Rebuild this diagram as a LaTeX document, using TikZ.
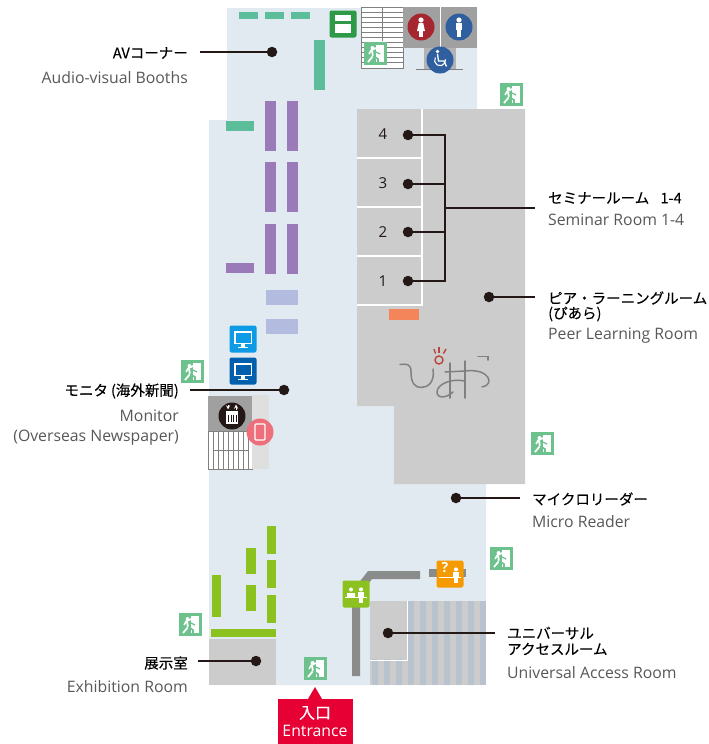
\documentclass[tikz,border=0pt]{standalone}
\usepackage{fontspec}
\setmainfont{Open Sans}
\newfontfamily\cjk[FakeBold=0.2]{Noto Sans CJK JP}
\usetikzlibrary{positioning}

\definecolor{floorblue}{HTML}{E1EAF0}
\definecolor{roomgray}{HTML}{CBCCCB}
\definecolor{stripegray}{HTML}{B8C3CD}
\definecolor{wallgray}{HTML}{A0A0A0}
\definecolor{railgray}{HTML}{8A8B8B}
\definecolor{exitgreen}{HTML}{6CC18C}
\definecolor{booth}{HTML}{5BBD9A}
\definecolor{shelf}{HTML}{9A7AB8}
\definecolor{lav}{HTML}{B3BCDE}
\definecolor{lime}{HTML}{8CC21F}
\definecolor{inkdark}{HTML}{231815}
\definecolor{textgray}{HTML}{595757}
\definecolor{entrred}{HTML}{E60033}
\definecolor{wcred}{HTML}{A6262F}
\definecolor{wcblue}{HTML}{2F5F9E}
\definecolor{copygreen}{HTML}{2E9A47}
\definecolor{monlight}{HTML}{0E9BE5}
\definecolor{mondark}{HTML}{0060AE}
\definecolor{phonepink}{HTML}{EE6F7C}
\definecolor{deskorange}{HTML}{F59A00}
\definecolor{boardorange}{HTML}{F4845A}
\definecolor{logored}{HTML}{B8443C}
\definecolor{logogray}{HTML}{808080}

\tikzset{
  dotmark/.style={circle, fill=inkdark, inner sep=0pt, minimum size=10.5pt},
  leader/.style={draw=inkdark, line width=1.1pt},
  jplabel/.style={font=\cjk\fontsize{14.5}{16}\selectfont, text=black, inner sep=0pt},
  enlabel/.style={font=\fontsize{15.8}{18}\selectfont, text=textgray, inner sep=0pt},
  numlabel/.style={font=\fontsize{15}{18}\selectfont, text=inkdark, inner sep=0pt},
  iconcirc/.style={circle, inner sep=0pt, minimum size=27pt},
  iconbox/.style={rectangle, rounded corners=2pt, inner sep=0pt, minimum size=27pt},
  logostroke/.style={logogray, line width=1.5pt, line cap=round},
  logospark/.style={logored, line width=1.4pt},
  exitsign/.pic={
    \fill[exitgreen] (0,0) rectangle (23,23);
    \fill[white] (12,3) rectangle (20,20);
    \fill[white] (8.5,6) circle (2);
    \draw[white, line width=1.6pt] (12,6) -- (7,8.5) -- (5,12);
    \draw[white, line width=1.8pt] (8,9) -- (9,14) -- (4,20);
    \draw[exitgreen, line width=1.6pt] (9,14) -- (14,17) -- (14,20);
    \draw[exitgreen, line width=1.2pt] (12,10) -- (16,12);
  },
  personfig/.pic={
    \fill[white] (0,-7) circle (2.6);
    \fill[white] (-3.2,-3.8) rectangle (3.2,3);
    \fill[white] (-2.2,3) rectangle (-0.3,9.5);
    \fill[white] (0.3,3) rectangle (2.2,9.5);
  },
  womanfig/.pic={
    \fill[white] (0,-7) circle (2.6);
    \fill[white] (-2.2,-4) -- (2.2,-4) -- (4,4) -- (-4,4) -- cycle;
    \fill[white] (-2,4) rectangle (-0.4,9.5);
    \fill[white] (0.4,4) rectangle (2,9.5);
  },
  monitorfig/.pic={
    \fill[white] (-9,-8) rectangle (9,5);
    \fill[#1] (-7.5,-6.5) rectangle (7.5,3.5);
    \fill[white] (-2,5) rectangle (2,7.5);
    \fill[white] (-5,7.5) rectangle (5,9);
  },
}

\begin{document}
\begin{tikzpicture}[x=1pt, y=-1pt]
\useasboundingbox (0,0) rectangle (709,744);

% Boden
\fill[floorblue] (227,8) -- (477,8) -- (477,109) -- (486,109) -- (486,685) -- (209,685) -- (209,120) -- (227,120) -- cycle;

% Raeume
\fill[roomgray] (357,109) -- (525,109) -- (525,484) -- (394,484) -- (394,406) -- (357,406) -- cycle;
\draw[white, line width=1.2pt] (422,109) -- (422,305) -- (357,305);
\foreach \yy in {158,207,256}
  \draw[white, line width=1.2pt] (357,\yy) -- (422,\yy);
\fill[roomgray] (209,639) rectangle (276,685);
\fill[roomgray] (370,601) rectangle (486,685);
\foreach \xx in {372,384,...,480}
  \fill[stripegray] (\xx,601) rectangle +(6,84);
\fill[roomgray] (370,601) rectangle (406,659);
\draw[white, line width=1pt] (407,601) -- (407,660) -- (370,660);

% Orange Tafel
\fill[boardorange] (389,309) rectangle (419,320);

% AV-Plaetze
\foreach \xx in {239,265,291}
  \fill[booth] (\xx,12) rectangle +(19,7);
\fill[booth] (314,40) rectangle (325,90);
\fill[booth] (226,121) rectangle (254,131);

% Regale
\foreach \yy in {101,162,224}{
  \fill[shelf] (265,\yy) rectangle +(11,50);
  \fill[shelf] (287,\yy) rectangle +(11,50);
}
\fill[shelf] (226,263) rectangle (254,273);
\fill[lav] (266,290) rectangle (298,305);
\fill[lav] (266,319) rectangle (298,334);

% Ausstellung
\fill[lime] (212,575) rectangle (221,617);
\fill[lime] (246,548) rectangle (256,574);
\fill[lime] (246,585) rectangle (256,611);
\fill[lime] (267,526) rectangle (276,554);
\fill[lime] (267,560) rectangle (276,588);
\fill[lime] (267,595) rectangle (276,623);
\fill[lime] (211,629) rectangle (276,637);

% Treppen
\fill[white] (361,7) rectangle (403,68);
\foreach \yy in {12,17,...,65}
  \draw[wallgray!80!black, line width=0.8pt] (361,\yy) -- (403,\yy);
\draw[wallgray!80!black, line width=0.9pt] (361,7) rectangle (403,68);
\draw[wallgray!80!black, line width=0.8pt] (382,7) -- (382,41);
\fill[white] (208,431) rectangle (252,469);
\foreach \xx in {213,218,...,250}
  \draw[wallgray!80!black, line width=0.8pt] (\xx,431) -- (\xx,469);
\draw[wallgray!80!black, line width=0.8pt] (213,450) -- (248,450);
\draw[wallgray!80!black, line width=0.9pt] (208,431) rectangle (252,469);

% WC und Aufzug
\fill[wallgray] (403,7) rectangle (477,48);
\fill[white] (439.5,7) rectangle (441,48);
\fill[wallgray!80] (424,48) rectangle (456,69);
\draw[wallgray!80!black, line width=0.9pt] (416,69) -- (463,69);
\fill[wallgray] (208,396) rectangle (252,431);
\fill[gray!25] (252,395) rectangle (269,469);

% Symbole
\node[iconcirc, fill=wcred] (wcwomen) at (421,27) {};
\pic at (wcwomen) {womanfig};
\node[iconcirc, fill=wcblue] (wcmen) at (459,27) {};
\pic at (wcmen) {personfig};
\node[iconcirc, fill=wcblue] (wcaccess) at (440,60) {};
\fill[white] (437.5,51.5) circle (1.8);
\draw[white, line width=1.3pt] (437.5,54) -- (438.5,61) -- (444,61) -- (446.5,66.5);
\draw[white, line width=1.1pt] (435.3,57.5) arc[start angle=210, end angle=-10, radius=5.5];

\node[iconbox, fill=copygreen] (copier) at (343,24) {};
\fill[white] (335,15) rectangle (351,21);
\fill[white] (335,24) rectangle (351,33);

\node[iconbox, fill=monlight] (monitora) at (243,339) {};
\pic at (monitora) {monitorfig=monlight};
\node[iconbox, fill=mondark] (monitorb) at (243,371) {};
\pic at (monitorb) {monitorfig=mondark};

\node[iconcirc, fill=inkdark] (lift) at (232,416) {};
\draw[white, line width=0.9pt, ->, >=stealth] (228,404.5) -- (228,409.5);
\draw[white, line width=0.9pt, ->, >=stealth] (236,409.5) -- (236,404.5);
\fill[white] (226,411) rectangle (238,424);
\foreach \xx in {228.5,231,233.5,236}
  \draw[inkdark, line width=0.8pt] (\xx,414.5) -- (\xx,422);
\node[iconcirc, fill=phonepink] (phone) at (260,432) {};
\draw[white, line width=1.1pt, rounded corners=1pt] (255,424) rectangle (265,440);

% Geleitlinien
\draw[railgray, line width=8pt] (356,676) -- (356,593) -- (370,575) -- (420,575);
\draw[railgray, line width=8pt] (429,573) -- (466,573);

\node[iconbox, fill=lime] (deska) at (356,594) {};
\pic[scale=0.8] at (361,595) {personfig};
\fill[white] (351,589.5) circle (2) (347,593) rectangle (355,597);
\draw[white, line width=0.8pt] (345,597) -- (367,597);
\node[iconbox, fill=deskorange] (deskb) at (450,574) {};
\pic[scale=0.8] at (456,575) {personfig};
\node[font=\bfseries\fontsize{14}{14}\selectfont, text=white, inner sep=0pt] (deskq) at (445,567.5) {?};
\draw[white, line width=0.8pt] (439,577) -- (461,577);

% Notausgaenge
\foreach \xx/\yy in {500/83, 181/360, 531/432, 490/547, 179/613, 304/657, 364/42}
  \pic at (\xx,\yy) {exitsign};

% Logo
\draw[logostroke]
  (400,364.5) .. controls (406,364) and (411,363) .. (411,372)
  .. controls (411,383) and (415,387.5) .. (421,387.5)
  .. controls (428,387.5) and (435,382) .. (433,369);
\draw[logostroke] (450,363) -- (450,398);
\draw[logostroke] (465,361) -- (465,398);
\draw[logostroke]
  (465,381) .. controls (452,378) and (437,384) .. (437,392)
  .. controls (437,399) and (447,398) .. (453,392);
\draw[logostroke]
  (445,372) -- (465,371) .. controls (490,368) and (495,385) .. (482,387);
\draw[logostroke] (478,356.5) -- (488,356.5) -- (488,360);
\draw[logospark] (439,360) circle (4);
\draw[logospark] (434,349) -- (435.5,353.5);
\draw[logospark] (439,347) -- (439,353);
\draw[logospark] (446,349) -- (443.5,353.5);

% Knoten
\node[dotmark] (avdot) at (272,52) {};
\node[dotmark] (semfour) at (408,135) {};
\node[dotmark] (semthree) at (408,184) {};
\node[dotmark] (semtwo) at (408,232) {};
\node[dotmark] (semone) at (408,281) {};
\node[dotmark] (peerdot) at (489,297) {};
\node[dotmark] (monitordot) at (284,390) {};
\node[dotmark] (microdot) at (456,498) {};
\node[dotmark] (univdot) at (388,633) {};
\node[dotmark] (exhdot) at (256,661) {};

\node[numlabel] (numfour) at (383,134) {4};
\node[numlabel] (numthree) at (383,183) {3};
\node[numlabel] (numtwo) at (383,232) {2};
\node[numlabel] (numone) at (383,281) {1};

% Beschriftung links
\node[jplabel, anchor=east] (avjp) at (188,53) {AVコーナー};
\node[enlabel, anchor=east] (aven) at (188,78) {Audio-visual Booths};
\node[jplabel, anchor=east] (monitorjp) at (179,391) {モニタ\hspace{3pt}(海外新聞)};
\node[enlabel, anchor=east] (monitoren) at (179,416) {Monitor};
\node[enlabel, anchor=east] (monitorenb) at (179,438) {(Overseas Newspaper)};
\node[jplabel, anchor=east] (exhjp) at (188,663) {展示室};
\node[enlabel, anchor=east] (exhen) at (188,687) {Exhibition Room};

% Beschriftung rechts
\node[jplabel, anchor=west] (semjp) at (548,198) {セミナールーム\hspace{8pt} 1-4};
\node[enlabel, anchor=west] (semen) at (548,220) {Seminar Room 1-4};
\node[jplabel, anchor=west] (peerjp) at (548,298) {ピア・ラーニングルーム};
\node[jplabel, anchor=west] (peerjpb) at (548,314) {(ぴあら)};
\node[enlabel, anchor=west] (peeren) at (548,336) {Peer Learning Room};
\node[jplabel, anchor=west] (microjp) at (532,499) {マイクロリーダー};
\node[enlabel, anchor=west] (microen) at (532,522) {Micro Reader};
\node[jplabel, anchor=west] (univjp) at (507,633) {ユニバーサル};
\node[jplabel, anchor=west] (univjpb) at (507,649) {アクセスルーム};
\node[enlabel, anchor=west] (univen) at (507,673) {Universal Access Room};

% Verbindungen
\coordinate (avend) at (200,52);
\coordinate (semjoin) at (445,208);
\coordinate (semend) at (535,208);
\coordinate (peerend) at (535,297);
\coordinate (monitorend) at (190,390);
\coordinate (microend) at (520,498);
\coordinate (univend) at (495,633);
\coordinate (exhend) at (198,661);
\draw[leader] (avend) -- (avdot);
\draw[leader] (semfour) -| (semjoin);
\draw[leader] (semthree) -| (semjoin);
\draw[leader] (semtwo) -| (semjoin);
\draw[leader] (semone) -| (semjoin);
\draw[leader] (semjoin) -- (semend);
\draw[leader] (peerdot) -- (peerend);
\draw[leader] (monitorend) -- (monitordot);
\draw[leader] (microdot) -- (microend);
\draw[leader] (univdot) -- (univend);
\draw[leader] (exhend) -- (exhdot);

% Eingang
\fill[entrred] (278,699) rectangle (353,744);
\fill[entrred] (308,699) -- (315,687) -- (322,699) -- cycle;
\node[jplabel, text=white, font=\cjk\fontsize{16}{16}\selectfont] (entrjp) at (315,713) {入口};
\node[enlabel, text=white] (entren) at (315,731) {Entrance};

\end{tikzpicture}
\end{document}
